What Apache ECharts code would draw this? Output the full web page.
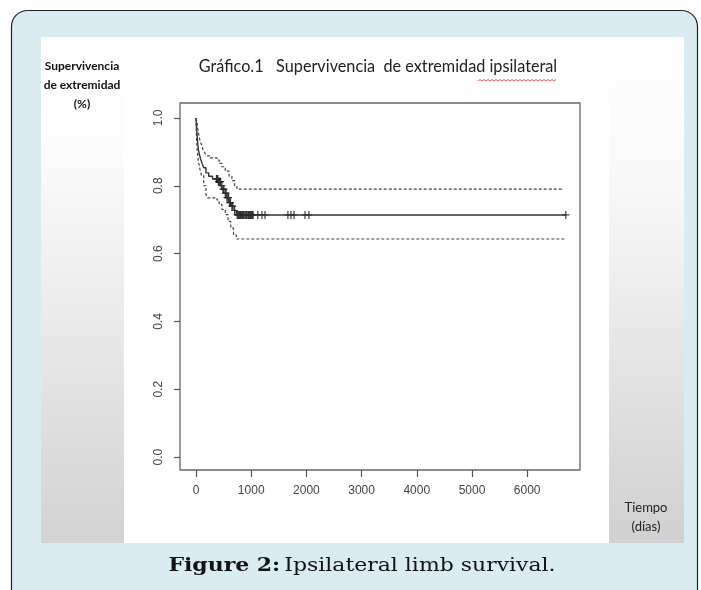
<!DOCTYPE html>
<html>
<head>
<meta charset="utf-8">
<script src="https://cdn.jsdelivr.net/npm/echarts@6/dist/echarts.min.js"></script>
<style>html,body{margin:0;padding:0;background:#fff}#c{width:701px;height:590px}</style>
</head>
<body>
<div id="c"></div>
<script>
// Kaplan-Meier estimate (days, survival)
const timeS = [0, 10, 20, 30, 45, 65, 85, 110, 140, 180, 230, 300, 400, 450, 480, 510, 550, 600, 640, 690, 730, 6700];
const survS = [1.0, 0.97, 0.95, 0.925, 0.905, 0.89, 0.878, 0.866, 0.853, 0.838, 0.828, 0.82, 0.812, 0.80, 0.79, 0.778, 0.765, 0.75, 0.74, 0.727, 0.714, 0.714];
// upper confidence limit
const timeU = [0, 10, 20, 30, 45, 70, 100, 130, 165, 200, 250, 380, 420, 470, 530, 600, 650, 700, 740, 6650];
const survU = [1.0, 0.995, 0.985, 0.97, 0.955, 0.935, 0.92, 0.905, 0.895, 0.888, 0.882, 0.876, 0.866, 0.856, 0.843, 0.828, 0.815, 0.80, 0.79, 0.79];
// lower confidence limit
const timeL = [0, 10, 20, 30, 45, 70, 100, 140, 180, 210, 380, 420, 470, 530, 580, 630, 680, 730, 6700];
const survL = [1.0, 0.94, 0.91, 0.89, 0.87, 0.85, 0.83, 0.80, 0.775, 0.764, 0.758, 0.745, 0.73, 0.715, 0.695, 0.675, 0.655, 0.643, 0.643];
// censored observations (days)
const censorTimes = [370, 385, 395, 405, 415, 430, 445, 470, 490, 505, 530, 545, 560, 580, 590, 610, 625, 650, 665, 700,
  745, 760, 775, 790, 805, 820, 840, 855, 870, 890, 905, 920, 940, 955, 970, 990, 1005, 1020, 1035,
  1120, 1195, 1250, 1665, 1720, 1775, 1975, 2045, 6700];
const xTicks = [0, 1000, 2000, 3000, 4000, 5000, 6000];
const yTicks = [0, 0.2, 0.4, 0.6, 0.8, 1.0];

function survAt(t) {
  let s = survS[0];
  for (let i = 0; i < timeS.length; i++) { if (timeS[i] <= t) s = survS[i]; }
  return s;
}

const chart = echarts.init(document.getElementById('c'), null, {renderer: 'canvas'});

const zig = [];
for (let x = 478; x <= 557; x += 2) zig.push([x, 80 + ((x / 2) % 2 ? 1 : -0.5)]);

const plusPath = 'path://M-0.7,-4 L0.7,-4 L0.7,-0.6 L4,-0.6 L4,0.6 L0.7,0.6 L0.7,4 L-0.7,4 L-0.7,0.6 L-4,0.6 L-4,-0.6 L-0.7,-0.6 Z';
const sideFont = 'Lato, "Open Sans", sans-serif';

chart.setOption({
  animation: false,
  backgroundColor: '#ffffff',
  graphic: [
    {type: 'rect', z: -20, shape: {x: 11.5, y: 10.5, width: 686, height: 620, r: 16}, style: {fill: '#d9ecf2', stroke: '#222', lineWidth: 1.2}},
    {type: 'rect', z: -19, shape: {x: 41, y: 37, width: 643, height: 506}, style: {fill: '#ffffff'}},
    {type: 'rect', z: -18, shape: {x: 41, y: 37, width: 83, height: 506}, style: {fill: new echarts.graphic.LinearGradient(0, 0, 0, 1, [{offset: 0, color: '#ffffff'}, {offset: 0.2, color: '#fdfdfd'}, {offset: 1, color: '#d2d2d2'}])}},
    {type: 'rect', z: -18, shape: {x: 609, y: 37, width: 75, height: 506}, style: {fill: new echarts.graphic.LinearGradient(0, 0, 0, 1, [{offset: 0, color: '#ffffff'}, {offset: 0.3, color: '#f8f8f8'}, {offset: 1, color: '#d0d0d0'}])}},
    {type: 'text', z: 10, style: {text: 'Supervivencia', x: 82, y: 66, align: 'center', verticalAlign: 'middle', textAlign: 'center', textVerticalAlign: 'middle', font: 'bold 12px ' + sideFont, fill: '#111'}},
    {type: 'text', z: 10, style: {text: 'de extremidad', x: 82, y: 85, align: 'center', verticalAlign: 'middle', textAlign: 'center', textVerticalAlign: 'middle', font: 'bold 12px ' + sideFont, fill: '#111'}},
    {type: 'text', z: 10, style: {text: '(%)', x: 82, y: 104, align: 'center', verticalAlign: 'middle', textAlign: 'center', textVerticalAlign: 'middle', font: 'bold 12px ' + sideFont, fill: '#111'}},
    {type: 'text', z: 10, x: 378, y: 67, scaleX: 0.955, style: {text: 'Gráfico.1   Supervivencia  de extremidad ipsilateral', x: 0, y: 0, align: 'center', verticalAlign: 'middle', textAlign: 'center', textVerticalAlign: 'middle', font: '17px ' + sideFont, fill: '#222'}},
    {type: 'polyline', z: 10, shape: {points: zig}, style: {stroke: '#e03030', lineWidth: 0.8, fill: null}},
    {type: 'text', z: 10, style: {text: 'Tiempo', x: 646, y: 508, align: 'center', verticalAlign: 'middle', textAlign: 'center', textVerticalAlign: 'middle', font: '13px ' + sideFont, fill: '#222'}},
    {type: 'text', z: 10, style: {text: '(días)', x: 646, y: 527, align: 'center', verticalAlign: 'middle', textAlign: 'center', textVerticalAlign: 'middle', font: '13px ' + sideFont, fill: '#222'}},
    {type: 'text', z: 10, x: 362, y: 566, scaleX: 1.22, style: {rich: {b: {fontWeight: 'bold', fontFamily: '"DejaVu Serif", serif', fontSize: 18, fill: '#111', color: '#111'}, n: {fontFamily: '"DejaVu Serif", serif', fontSize: 18, color: '#111', fill: '#111'}}, text: '{b|Figure 2:} {n|Ipsilateral limb survival.}', x: 0, y: 0, align: 'center', verticalAlign: 'middle', textAlign: 'center', textVerticalAlign: 'middle'}}
  ],
  grid: {left: 180, right: 121, top: 103, bottom: 120, show: true, borderColor: '#666', borderWidth: 1.3, backgroundColor: 'transparent'},
  xAxis: {
    type: 'value', min: -290, max: 6957,
    axisLine: {show: false, onZero: false},
    splitLine: {show: false},
    axisTick: {show: true, customValues: xTicks, length: 7, lineStyle: {color: '#555', width: 1.2}},
    axisLabel: {customValues: xTicks, margin: 15, color: '#444', fontSize: 12, fontFamily: '"Liberation Sans", Arial, sans-serif', formatter: v => String(v)}
  },
  yAxis: {
    type: 'value', min: -0.038, max: 1.044,
    axisLine: {show: false, onZero: false},
    splitLine: {show: false},
    axisTick: {show: true, customValues: yTicks, length: 6, lineStyle: {color: '#555', width: 1.2}},
    axisLabel: {customValues: yTicks, rotate: 90, margin: 15, color: '#444', fontSize: 12, fontFamily: '"Liberation Sans", Arial, sans-serif', formatter: v => v.toFixed(1)}
  },
  series: [
    {type: 'line', step: 'end', showSymbol: false, data: timeS.map((t, i) => [t, survS[i]]), lineStyle: {color: '#333', width: 1.4}},
    {type: 'line', step: 'end', showSymbol: false, data: timeU.map((t, i) => [t, survU[i]]), lineStyle: {color: '#444', width: 1.2, type: [3, 2]}},
    {type: 'line', step: 'end', showSymbol: false, data: timeL.map((t, i) => [t, survL[i]]), lineStyle: {color: '#444', width: 1.2, type: [3, 2]}},
    {type: 'scatter', symbol: plusPath, symbolSize: [7, 8], itemStyle: {color: '#111'}, data: censorTimes.map(t => [t, survAt(t)])}
  ]
});
</script>
</body>
</html>
